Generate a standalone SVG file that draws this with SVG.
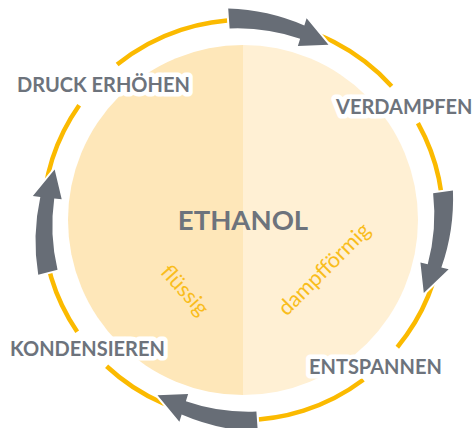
<svg xmlns="http://www.w3.org/2000/svg" width="474" height="428" viewBox="0 0 474 428">
<style>
.lbl{font-family:Lato,"Liberation Sans",sans-serif;font-weight:700;fill:#6d737c;font-size:20px}
.halo{fill:#fff;stroke:#fff;stroke-width:9px;stroke-linejoin:round}
.phase{font-family:Lato,"Liberation Sans",sans-serif;font-size:21.5px;fill:#f9bd1c}
.arrow{fill:#676d76;stroke:#fff;stroke-width:4px;stroke-linejoin:miter;paint-order:stroke}
.ring{fill:none;stroke:#fbba00;stroke-width:4.5px}
</style>
<defs>
<path id="arr" d="M455,220 A208,208 0 0 1 432.79,294.76 L439.77,297.51 L411.87,317.5 L412.78,286.88 L419.76,289.63 A191,191 0 0 0 435,220 Z"/>
</defs>
<rect width="474" height="428" fill="#fff"/>
<g id="core">
<path d="M243,45 A175,175 0 0 0 243,395 Z" fill="#fee7b9"/>
<path d="M243,45 A175,175 0 0 1 243,395 Z" fill="#fff0d4"/>
</g>
<g id="ring">
<path class="ring" d="M417.92,123.04 A200,200 0 0 1 397.30,347.23"/>
<path class="ring" d="M363.36,379.73 A200,200 0 0 1 106.60,366.27"/>
<path class="ring" d="M77.19,331.84 A200,200 0 0 1 79.17,105.28"/>
<path class="ring" d="M117.14,64.57 A200,200 0 0 1 391.63,86.18"/>
</g>
<g id="connectors">
<use href="#arr" class="arrow" transform="rotate(-94 243 220)"/>
<use href="#arr" class="arrow" transform="rotate(-8 243 220)"/>
<use href="#arr" class="arrow" transform="rotate(86 243 220)"/>
<use href="#arr" class="arrow" transform="rotate(165 243 220)"/>
</g>
<g id="druck">
<text class="lbl halo" x="17" y="92">DRUCK ERHÖHEN</text>
<text class="lbl" x="17" y="92">DRUCK ERHÖHEN</text>
</g>
<g id="verdampfen">
<text class="lbl halo" x="336" y="114">VERDAMPFEN</text>
<text class="lbl" x="336" y="114">VERDAMPFEN</text>
</g>
<g id="entspannen">
<text class="lbl halo" x="309" y="374">ENTSPANNEN</text>
<text class="lbl" x="309" y="374">ENTSPANNEN</text>
</g>
<g id="kondensieren">
<text class="lbl halo" x="10" y="356">KONDENSIEREN</text>
<text class="lbl" x="10" y="356">KONDENSIEREN</text>
</g>
<g id="ethanol">
<text x="243" y="230" text-anchor="middle" font-family="Lato,'Liberation Sans',sans-serif" font-weight="700" font-size="27.5" fill="#6d737c">ETHANOL</text>
<text class="phase" x="0" y="0" text-anchor="middle" transform="translate(184 291) rotate(48)" dy="6">flüssig</text>
<text class="phase" x="0" y="0" text-anchor="middle" transform="translate(325 270) rotate(-45)" dy="6">dampfförmig</text>
</g>
</svg>
